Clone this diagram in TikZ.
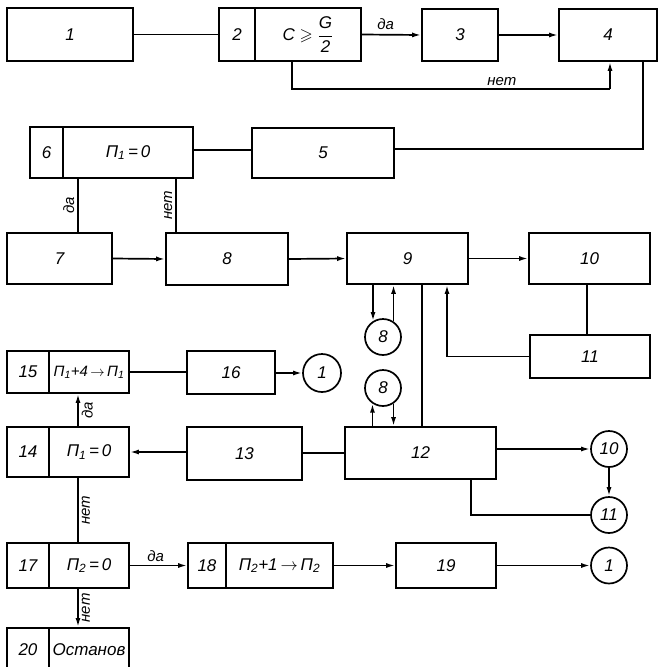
\documentclass[tikz,border=0pt]{standalone}
\usepackage{amsmath,amssymb}
\usepackage{fontspec}
\setmainfont{Liberation Sans}
\usetikzlibrary{arrows.meta}
\begin{document}
\begin{tikzpicture}[x=1pt,y=-1pt,
  line width=1.7pt,
  every node/.style={font=\fontsize{17}{17}\selectfont\itshape},
  box/.style={draw,rectangle,inner sep=0pt,line width=1.7pt},
  conn/.style={draw,circle,inner sep=0pt,minimum size=36pt,line width=1.7pt},
  arr/.style={-{Latex[length=9pt,width=5pt]}},
  lbl/.style={font=\fontsize{15}{15}\selectfont\itshape,inner sep=3pt}]
\useasboundingbox (0,0) rectangle (659,667);
\clip (0,0) rectangle (659,667);

% --- row 1
\node[box,minimum width=126pt,minimum height=53pt] (b1) at (70,34.5) {1};
\node[box,minimum width=36pt,minimum height=53pt] (b2n) at (237,34.5) {2};
\node[box,minimum width=106pt,minimum height=53pt] (b2) at (308,34.5)
  {$\text{\itshape C}\geqslant\dfrac{\text{\itshape G}}{\text{\itshape 2}}$};
\node[box,minimum width=76pt,minimum height=52pt] (b3) at (460,35) {3};
\node[box,minimum width=98pt,minimum height=52pt] (b4) at (608,35) {4};

% --- row 2
\node[box,minimum width=142pt,minimum height=50pt] (b5) at (323,153) {5};
\node[box,minimum width=33pt,minimum height=51pt] (b6n) at (46.5,152.5) {6};
\node[box,minimum width=130pt,minimum height=51pt] (b6) at (128,152.5) {П\textsubscript{1}\,=\,0};

% --- row 3
\node[box,minimum width=105pt,minimum height=51pt] (b7) at (59.5,258.5) {7};
\node[box,minimum width=122pt,minimum height=52pt] (b8) at (227,259) {8};
\node[box,minimum width=121pt,minimum height=51pt] (b9) at (407.5,258.5) {9};
\node[box,minimum width=121pt,minimum height=51pt] (b10) at (589.5,258.5) {10};
\node[box,minimum width=120pt,minimum height=43pt] (b11) at (590,356.5) {11};

% --- connectors around blocks 9 and 12
\node[conn] (c8a) at (383,337) {8};
\node[conn] (c8b) at (383,388) {8};
\node[box,minimum width=151pt,minimum height=52pt] (b12) at (420.5,453) {12};
\node[conn] (c10) at (609,449) {10};
\node[conn] (c11) at (609,515) {11};
\node[box,minimum width=115pt,minimum height=53pt] (b13) at (244.5,453.5) {13};

% --- left column
\node[box,minimum width=42pt,minimum height=42pt] (b15n) at (28,372) {15};
\node[box,minimum width=80pt,minimum height=42pt,font=\fontsize{15}{15}\selectfont\itshape] (b15) at (89,372)
  {П\textsubscript{1}+4$\,\rightarrow\,$П\textsubscript{1}};
\node[box,minimum width=88pt,minimum height=43pt] (b16) at (231,372.5) {16};
\node[conn,minimum size=38pt] (c1a) at (322,373) {1};
\node[box,minimum width=42pt,minimum height=50pt] (b14n) at (28,452) {14};
\node[box,minimum width=80pt,minimum height=50pt] (b14) at (89,452) {П\textsubscript{1}\,=\,0};

% --- bottom rows
\node[box,minimum width=42pt,minimum height=45pt] (b17n) at (28,565.5) {17};
\node[box,minimum width=80pt,minimum height=45pt] (b17) at (89,565.5) {П\textsubscript{2}\,=\,0};
\node[box,minimum width=38pt,minimum height=45pt] (b18n) at (207,565.5) {18};
\node[box,minimum width=107pt,minimum height=45pt] (b18) at (279.5,565.5)
  {П\textsubscript{2}+1$\,\rightarrow\,$П\textsubscript{2}};
\node[box,minimum width=100pt,minimum height=45pt] (b19) at (446,565.5) {19};
\node[conn] (c1b) at (609,565.5) {1};
\node[box,minimum width=42pt,minimum height=66pt,anchor=north] (b20n) at (28,627) {};
\node[box,minimum width=80pt,minimum height=66pt,anchor=north] (b20) at (89,627) {};
\node (t20n) at (28,650) {20};
\node (t20) at (89,650) {Останов};

% --- connections
\draw (b1.east) -- (b2n.west);
\draw[arr] (b2.east) -- node[lbl,above,pos=0.4,yshift=1pt] {да} (b3.west);
\draw[arr] (b3.east) -- (b4.west);
\coordinate (n2) at (292,89);
\coordinate (n4) at (610,89);
\draw (b2.south -| n2) -- (n2) -- node[lbl,above,pos=0.66] {нет} (n4);
\draw[arr] (n4) -- (b4.south -| n4);
\coordinate (r4) at (643,149);
\draw (b4.south -| r4) -- (r4) -- (r4 -| b5.east);
\draw (b6.east |- 0,150) -- (b5.west |- 0,150);

\coordinate (d6) at (78,0);
\coordinate (e6) at (176,0);
\draw (b6.south -| d6) -- node[lbl,rotate=90,anchor=south] {да} (b7.north -| d6);
\draw (b6.south -| e6) -- node[lbl,rotate=90,anchor=south] {нет} (b8.north -| e6);
\draw[arr] (b7.east) -- (b8.west);
\draw[arr] (b8.east) -- (b9.west);
\draw[arr] (b9.east) -- (b10.west);
\draw (b10.south -| 587,0) -- (b11.north -| 587,0);
\coordinate (k9) at (447,356.5);
\draw[arr] (b11.west) -- (k9) -- (b9.south -| k9);
\draw[arr] (b9.south -| c8a.122) -- (c8a.122);
\draw[arr] (c8a.56) -- (b9.south -| c8a.56);
\draw (b9.south -| 422,0) -- (b12.north -| 422,0);
\draw[arr] (b12.north -| c8b.236) -- (c8b.236);
\draw[arr] (c8b.304) -- (b12.north -| c8b.304);
\draw[arr] (b12.east |- c10.west) -- (c10.west);
\draw[arr] (c10.south) -- (c11.north);
\coordinate (k12) at (471,515);
\draw (b12.south -| k12) -- (k12) -- (c11.west);
\draw (b12.west) -- (b13.east |- b12.west);
\draw[arr] (b13.west |- b14.east) -- (b14.east);
\draw[arr] (b14.north -| d6) -- node[lbl,rotate=90,anchor=north] {да} (b15.south -| d6);
\draw (b15.east) -- (b16.west |- b15.east);
\draw[arr] (b16.east |- c1a.west) -- (c1a.west);
\draw (b14.south -| d6) -- node[lbl,rotate=90,anchor=north] {нет} (b17.north -| d6);
\draw[arr] (b17.east) -- node[lbl,above,pos=0.45] {да} (b18n.west);
\draw[arr] (b18.east) -- (b19.west);
\draw[arr] (b19.east) -- (c1b.west);
\draw[arr] (b17.south -| d6) -- node[lbl,rotate=90,anchor=north] {нет} (b20.north -| d6);
\end{tikzpicture}
\end{document}
